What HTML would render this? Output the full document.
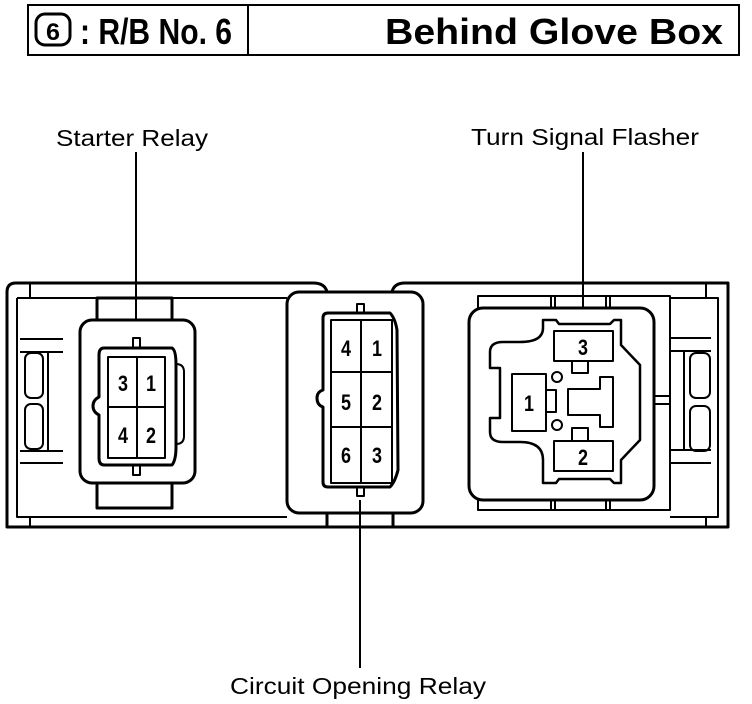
<!DOCTYPE html>
<html><head><style>
html,body{margin:0;padding:0;background:#fff;}
svg{display:block;}
text{font-family:"Liberation Sans",sans-serif;fill:#000;}
</style></head><body>
<svg width="752" height="704" viewBox="0 0 752 704" xmlns="http://www.w3.org/2000/svg">
<g fill="none" stroke="#000" stroke-width="3">
<rect x="28" y="5" width="711" height="50" stroke-width="2"/>
<line x1="248" y1="5" x2="248" y2="55" stroke-width="2"/>
<rect x="36" y="14" width="34" height="31" rx="9" stroke-width="3"/>
</g>
<text x="53" y="40" font-size="24" font-weight="bold" text-anchor="middle" textLength="14" lengthAdjust="spacingAndGlyphs">6</text>
<text x="80" y="44" font-size="36" font-weight="bold" textLength="152" lengthAdjust="spacingAndGlyphs">: R/B No. 6</text>
<text x="385" y="44" font-size="36" font-weight="bold" textLength="338" lengthAdjust="spacingAndGlyphs">Behind Glove Box</text>

<text x="56" y="146" font-size="23" textLength="152" lengthAdjust="spacingAndGlyphs">Starter Relay</text>
<text x="471" y="145" font-size="23" textLength="228" lengthAdjust="spacingAndGlyphs">Turn Signal Flasher</text>
<text x="230" y="694" font-size="23" textLength="256" lengthAdjust="spacingAndGlyphs">Circuit Opening Relay</text>

<g fill="none" stroke="#000" stroke-width="3" stroke-linejoin="round">
<line x1="136" y1="152" x2="136" y2="320" stroke-width="2"/>
<line x1="583" y1="152" x2="583" y2="308" stroke-width="2"/>
<line x1="360" y1="500" x2="360" y2="668" stroke-width="2"/>

<path d="M7,292 Q7,283 16,283 L313,283 Q325,283 327,292"/>
<path d="M392,292 Q394,283 405,283 L728,283 L728,527 L7,527 L7,292"/>
<path d="M17,298 L17,517 L287,517" stroke-width="2"/>
<path d="M17,298 L287,298" stroke-width="2"/>
<line x1="30" y1="283" x2="30" y2="298" stroke-width="2"/>
<line x1="30" y1="517" x2="30" y2="527" stroke-width="2"/>
<path d="M20,339 L63,339 M20,352 L63,352 M20,451 L63,451 M20,463 L63,463" stroke-width="2"/>
<rect x="25" y="353" width="18" height="45" rx="6" stroke-width="2"/>
<rect x="25" y="404" width="18" height="45" rx="6" stroke-width="2"/>
<line x1="48" y1="352" x2="48" y2="451" stroke-width="2"/>

<path d="M97,320 L97,298 L172,298 L172,320"/>
<path d="M97,483 L97,508 L172,508 L172,483"/>
<rect x="80" y="320" width="115" height="163" rx="12"/>
<path d="M104,348 L172,348 Q176,350 176,365 L176,447 Q176,460 172,465 L104,465 Q99,465 99,458 L99,415 Q93,412 93,406 Q93,400 99,397 L99,355 Q99,348 104,348 Z"/>
<path d="M176,364 Q184,364 184,372 L184,436 Q184,444 176,444" stroke-width="2"/>
<rect x="133" y="338" width="7" height="10" stroke-width="2"/>
<rect x="133" y="465" width="7" height="10" stroke-width="2"/>
<rect x="108" y="357" width="57" height="101" stroke-width="2"/>
<line x1="137" y1="357" x2="137" y2="458" stroke-width="2"/>
<line x1="108" y1="407" x2="165" y2="407" stroke-width="2"/>

<rect x="287" y="292" width="136" height="221" rx="12"/>
<path d="M328,313 L390,313 Q395,318 397,330 L398,470 Q395,482 390,487 L328,487 Q323,487 323,482 L323,407 Q317,405 317,398 Q317,392 323,390 L323,318 Q323,313 328,313 Z"/>
<rect x="357" y="304" width="7" height="9" stroke-width="2"/>
<rect x="357" y="487" width="7" height="9" stroke-width="2"/>
<rect x="331" y="320" width="61" height="163" stroke-width="2"/>
<line x1="361" y1="320" x2="361" y2="483" stroke-width="2"/>
<line x1="331" y1="372" x2="392" y2="372" stroke-width="2"/>
<line x1="331" y1="427" x2="392" y2="427" stroke-width="2"/>
<path d="M327,513 L327,527 M393,513 L393,527" stroke-width="3"/>

<path d="M478,308 L478,296 L670,296 L670,510 L478,510 L478,500" stroke-width="2"/>
<path d="M551,296 L551,308 M555,296 L555,308 M606,296 L606,308 M610,296 L610,308" stroke-width="2"/>
<path d="M551,500 L551,510 M555,500 L555,510 M606,500 L606,510 M610,500 L610,510" stroke-width="2"/>
<rect x="469" y="308" width="185" height="192" rx="14"/>
<path d="M543,320 L556,320 L559,324 L610,324 L614,320 L621,320 L621,345 L640,365 L640,440 L621,460 L621,483 L614,483 L610,479 L559,479 L556,483 L543,483 L543,460 Q543,442 520,442 L503,442 Q490,442 490,432 L490,418 L500,418 L500,368 L490,368 L490,352 Q490,342 503,342 L520,342 Q543,342 543,328 Z" stroke-width="2.5"/>
<rect x="554" y="331" width="59" height="30" stroke-width="2"/>
<rect x="554" y="441" width="59" height="30" stroke-width="2"/>
<rect x="512" y="374" width="34" height="57" stroke-width="2"/>
<rect x="546" y="390" width="10" height="22" stroke-width="2"/>
<rect x="572" y="361" width="16" height="12" stroke-width="2"/>
<rect x="572" y="428" width="16" height="13" stroke-width="2"/>
<path d="M568,389 L600,389 L600,377 L613,377 L613,427 L600,427 L600,415 L568,415 Z" stroke-width="2"/>
<circle cx="557" cy="377" r="5" stroke-width="2"/>
<circle cx="557" cy="425" r="5" stroke-width="2"/>
<path d="M671,338 L711,338 M671,351 L711,351 M671,450 L711,450 M671,463 L711,463" stroke-width="2"/>
<path d="M654,396 L671,396 M654,404 L671,404" stroke-width="2"/>
<rect x="690" y="353" width="20" height="45" rx="6" stroke-width="2"/>
<rect x="690" y="406" width="20" height="45" rx="6" stroke-width="2"/>
<line x1="684" y1="351" x2="684" y2="450" stroke-width="2"/>
<path d="M670,298 L718,298 L718,517 L670,517" stroke-width="2"/>
<line x1="706" y1="283" x2="706" y2="298" stroke-width="2"/>
<line x1="706" y1="517" x2="706" y2="527" stroke-width="2"/>
</g>

<g font-size="22" font-weight="bold" text-anchor="middle">
<text x="123" y="391" textLength="10" lengthAdjust="spacingAndGlyphs">3</text><text x="151" y="391" textLength="10" lengthAdjust="spacingAndGlyphs">1</text>
<text x="123" y="443" textLength="10" lengthAdjust="spacingAndGlyphs">4</text><text x="151" y="443" textLength="10" lengthAdjust="spacingAndGlyphs">2</text>
<text x="346" y="356" textLength="10" lengthAdjust="spacingAndGlyphs">4</text><text x="377" y="356" textLength="10" lengthAdjust="spacingAndGlyphs">1</text>
<text x="346" y="410" textLength="10" lengthAdjust="spacingAndGlyphs">5</text><text x="377" y="410" textLength="10" lengthAdjust="spacingAndGlyphs">2</text>
<text x="346" y="463" textLength="10" lengthAdjust="spacingAndGlyphs">6</text><text x="377" y="463" textLength="10" lengthAdjust="spacingAndGlyphs">3</text>
<text x="583" y="355" textLength="10" lengthAdjust="spacingAndGlyphs">3</text>
<text x="583" y="465" textLength="10" lengthAdjust="spacingAndGlyphs">2</text>
<text x="529" y="411" textLength="10" lengthAdjust="spacingAndGlyphs">1</text>
</g>
</svg>
</body></html>
